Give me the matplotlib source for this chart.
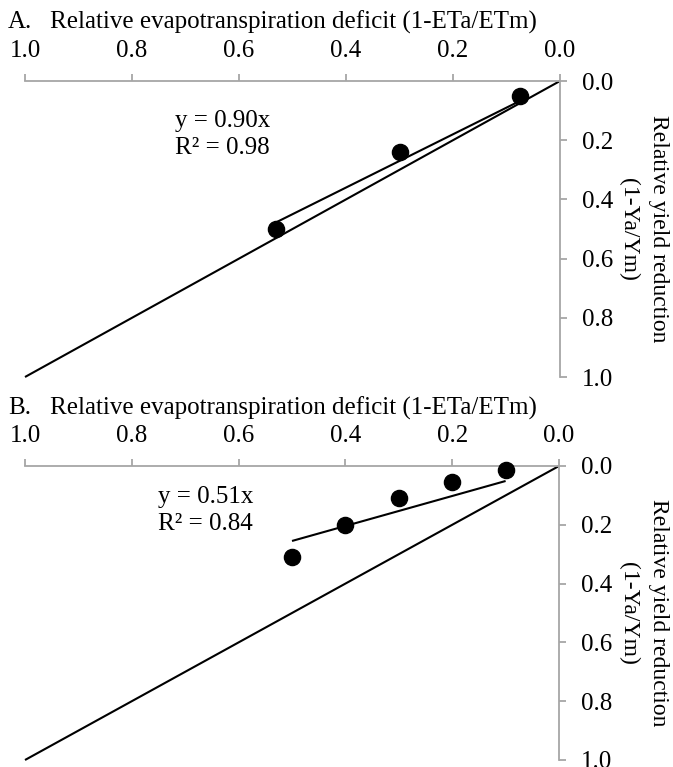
import matplotlib
matplotlib.use("Agg")

import matplotlib.pyplot as plt
import numpy as np

plt.rcParams["font.family"] = ["Liberation Serif", "DejaVu Serif"]

# --- data -------------------------------------------------------------------
x_a = [0.075, 0.30, 0.53]           # relative ET deficit, panel A
y_a = [0.05, 0.24, 0.50]            # relative yield reduction, panel A
slope_a = 0.90
r2_a = 0.98

x_b = [0.10, 0.20, 0.30, 0.40, 0.50]
y_b = [0.015, 0.055, 0.11, 0.20, 0.31]
slope_b = 0.51
r2_b = 0.84

ticks = [0.0, 0.2, 0.4, 0.6, 0.8, 1.0]
one_to_one = [0.0, 1.0]

XLABEL = "Relative evapotranspiration deficit (1-ETa/ETm)"
YLABEL_LINES = ["Relative yield reduction", "(1-Ya/Ym)"]

W, H = 673, 767
FS = 18
AXIS_GREY = "#a6a6a6"


def px_box(left, top, right, bottom):
    """Pixel box -> figure fraction rect."""
    return [left / W, 1 - bottom / H, (right - left) / W, (bottom - top) / H]


def draw_panel(fig, box, xs, ys, slope, r2, letter, title_y, eq_pos):
    ax = fig.add_axes(px_box(*box))
    ax.set_xlim(1.0, 0.0)
    ax.set_ylim(1.0, 0.0)

    # 1:1 line and fitted line through origin
    ax.plot(one_to_one, one_to_one, color="black", lw=1.5, clip_on=False,
            solid_capstyle="butt")
    xf = np.array([min(xs), max(xs)])
    ax.plot(xf, slope * xf, color="black", lw=1.5, solid_capstyle="butt")
    ax.scatter(xs, ys, s=135, color="black", zorder=3, clip_on=False)

    ax.text(eq_pos[0], eq_pos[1], f"y = {slope:.2f}x\nR² = {r2:.2f}",
            fontsize=FS, ha="left", va="center", linespacing=1.3)

    for side in ("left", "bottom"):
        ax.spines[side].set_visible(False)
    for side in ("top", "right"):
        ax.spines[side].set_color(AXIS_GREY)
        ax.spines[side].set_linewidth(1.3)

    ax.xaxis.tick_top()
    ax.yaxis.tick_right()
    ax.set_xticks(ticks)
    ax.set_yticks(ticks)
    ax.set_xticklabels([f"{t:.1f}" for t in ticks])
    ax.set_yticklabels([f"{t:.1f}" for t in ticks])
    ax.tick_params(axis="both", direction="out", length=5, width=1.3,
                   color=AXIS_GREY, labelsize=FS)
    ax.tick_params(axis="x", pad=9)
    ax.tick_params(axis="y", pad=11)

    # rotated two-line y label, each line placed by hand at the right edge
    yc = (box[1] + box[3]) / 2
    for line, xpx in zip(YLABEL_LINES, (659, 629)):
        fig.text(xpx / W, 1 - yc / H, line, fontsize=17, rotation=-90,
                 ha="center", va="center")

    fig.text(8 / W, 1 - title_y / H, letter, fontsize=FS, va="center")
    fig.text(50 / W, 1 - title_y / H, XLABEL, fontsize=FS, va="center")
    return ax


fig = plt.figure(figsize=(W / 100, H / 100), dpi=100)

draw_panel(fig, (25, 81, 560, 377), x_a, y_a, slope_a, r2_a,
           "A.", 22, (0.72, 0.18))
draw_panel(fig, (25, 466, 559, 760), x_b, y_b, slope_b, r2_b,
           "B.", 408, (0.75, 0.15))

fig.savefig("out.png", dpi=100)
